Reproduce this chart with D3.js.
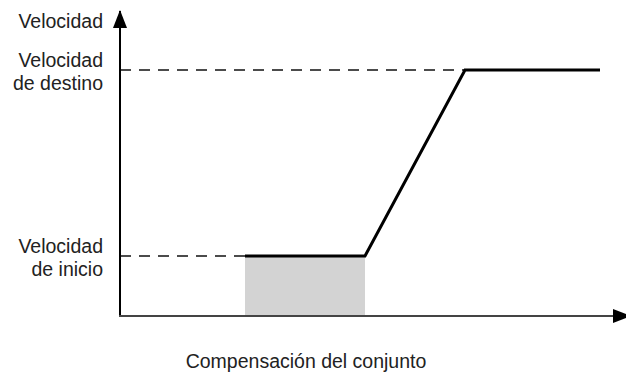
<!DOCTYPE html>
<html>
<head>
<meta charset="utf-8">
<script src="https://cdn.jsdelivr.net/npm/d3@7"></script>
<style>
  html, body { margin: 0; padding: 0; background: #fff; }
  svg text { font-family: "Liberation Sans", Arial, sans-serif; fill: #222; }
</style>
</head>
<body>
<div id="diagram"></div>
<script>
// velocity profile data (abstract units)
const profile = [[25, 20], [49, 20], [69, 82], [96, 82]];
const offsetBand = [25, 49];
const speedLevels = [82, 20];
const speedLabels = [['Velocidad', 'de destino'], ['Velocidad', 'de inicio']];
const yTitle = 'Velocidad';
const xTitle = 'Compensación del conjunto';

!(function () {
  'use strict'
  const w = 626, h = 373;

  const svg = d3.select('#diagram').append('svg')
    .attr('width', w).attr('height', h);

  const xScale = d3.scaleLinear().domain([0, 100]).range([120, 620]);
  const yScale = d3.scaleLinear().domain([0, 100]).range([316, 16]);

  // shaded offset region
  svg.append('rect')
    .attr('x', xScale(offsetBand[0]))
    .attr('y', yScale(profile[0][1]))
    .attr('width', xScale(offsetBand[1]) - xScale(offsetBand[0]))
    .attr('height', yScale(0) - yScale(profile[0][1]))
    .attr('fill', '#d3d3d3');

  // dashed reference levels
  svg.selectAll('line.level').data(speedLevels).enter().append('line')
    .attr('class', 'level')
    .attr('x1', xScale(0))
    .attr('x2', function (d) { return xScale(profile.find(p => p[1] === d)[0]); })
    .attr('y1', function (d) { return yScale(d); })
    .attr('y2', function (d) { return yScale(d); })
    .attr('stroke', '#111').attr('stroke-width', 1.6)
    .attr('stroke-dasharray', '11,8');

  // level labels
  speedLevels.forEach(function (d, i) {
    const t = svg.append('text')
      .attr('text-anchor', 'end')
      .attr('font-size', 19.5);
    speedLabels[i].forEach(function (s, j) {
      t.append('tspan').attr('x', 103)
        .attr('y', yScale(d) - 3 + (j === 0 ? 0 : 23))
        .text(s);
    });
  });

  // axes with arrows
  svg.append('defs').append('marker').attr('id', 'arr')
    .attr('viewBox', '0 0 18 14').attr('refX', 17).attr('refY', 7)
    .attr('markerWidth', 18).attr('markerHeight', 14)
    .attr('markerUnits', 'userSpaceOnUse')
    .attr('orient', 'auto')
    .append('path').attr('d', 'M0,0L18,7L0,14Z').attr('fill', '#000');

  svg.append('line')
    .attr('x1', xScale(0)).attr('x2', xScale(0))
    .attr('y1', yScale(0) + 1).attr('y2', 11)
    .attr('stroke', '#000').attr('stroke-width', 2)
    .attr('marker-end', 'url(#arr)');

  svg.append('line')
    .attr('x1', xScale(0) - 1).attr('x2', xScale(102))
    .attr('y1', yScale(0)).attr('y2', yScale(0))
    .attr('stroke', '#444').attr('stroke-width', 2)
    .attr('marker-end', 'url(#arr)');

  // profile line
  const line = d3.line()
    .x(function (d) { return xScale(d[0]); })
    .y(function (d) { return yScale(d[1]); });

  svg.append('path').datum(profile)
    .attr('d', line)
    .attr('fill', 'none')
    .attr('stroke', '#000').attr('stroke-width', 3)
    .attr('stroke-linejoin', 'miter');

  // titles
  svg.append('text')
    .attr('x', 103).attr('y', 28)
    .attr('text-anchor', 'end').attr('font-size', 19.5)
    .text(yTitle);

  svg.append('text')
    .attr('x', 306).attr('y', 368)
    .attr('text-anchor', 'middle').attr('font-size', 19.5)
    .text(xTitle);
}())
</script>
</body>
</html>
